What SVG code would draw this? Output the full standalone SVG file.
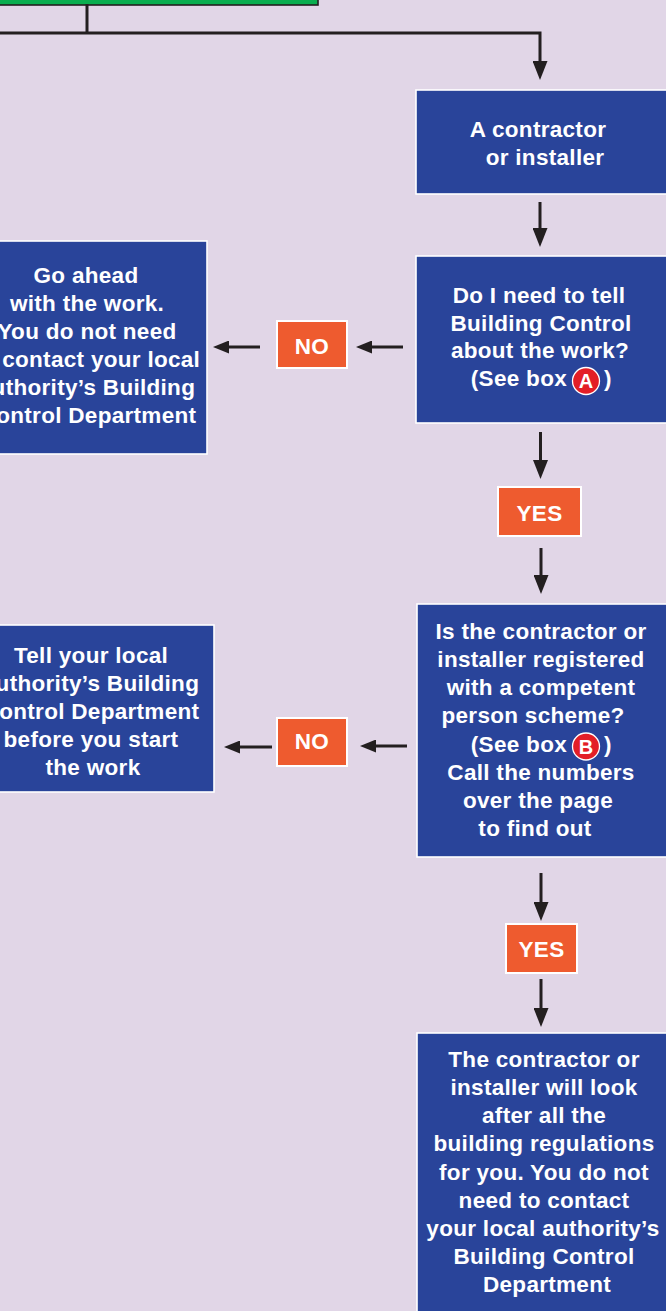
<svg xmlns="http://www.w3.org/2000/svg" width="666" height="1311" viewBox="0 0 666 1311">
<style>
.bg{fill:#e1d6e7}
.box{fill:#29449a;stroke:#ffffff;stroke-width:1.6}
.tag{fill:#ee5b2f;stroke:#ffffff;stroke-width:2}
.t{font-family:"Liberation Sans",Arial,Helvetica,sans-serif;font-weight:bold;font-size:22.5px;fill:#ffffff;text-anchor:middle;letter-spacing:0.3px}
.ts{font-family:"Liberation Sans",Arial,Helvetica,sans-serif;font-weight:bold;font-size:22.5px;fill:#ffffff;letter-spacing:0.3px}
.c{fill:#e31e26;stroke:#ffffff;stroke-width:1.3}
.cl{font-family:"Liberation Sans",Arial,Helvetica,sans-serif;font-weight:bold;font-size:20px;fill:#ffffff;text-anchor:middle}
.ln{fill:none;stroke:#231f20;stroke-width:3}
.lv{fill:none;stroke:#231f20;stroke-width:3;marker-end:url(#aV)}
.lh{fill:none;stroke:#231f20;stroke-width:3;marker-end:url(#aH)}
</style>
<defs>
<marker id="aV" markerUnits="userSpaceOnUse" markerWidth="19" markerHeight="15" refX="9" refY="7.5" orient="auto">
<path d="M0,0 L19,7.5 L0,15 Z" fill="#231f20"/>
</marker>
<marker id="aH" markerUnits="userSpaceOnUse" markerWidth="16" markerHeight="13" refX="6" refY="6.5" orient="auto">
<path d="M0,0 L16,6.5 L0,13 Z" fill="#231f20"/>
</marker>
</defs>
<rect class="bg" x="0" y="0" width="666" height="1311"/>

<g id="start">
<rect x="-5" y="-10" width="323" height="15" fill="#0aae4f" stroke="#231f20" stroke-width="1.6"/>
</g>

<g id="connectors">
<path class="ln" d="M87,4 V33"/>
<path class="lv" d="M0,33 H540 V70"/>
<path class="lv" d="M540,202 V237"/>
<path class="lh" d="M403,347 H366"/>
<path class="lh" d="M260,347 H223"/>
<path class="lv" d="M540.5,432 V469"/>
<path class="lv" d="M541,548 V584"/>
<path class="lh" d="M407,746 H370"/>
<path class="lh" d="M272,747 H234"/>
<path class="lv" d="M541,873 V911"/>
<path class="lv" d="M541,979 V1017"/>
</g>

<g id="contractor">
<rect class="box" x="416" y="90" width="260" height="104"/>
<text class="t" x="538" y="137">A contractor</text>
<text class="t" x="545" y="165">or installer</text>
</g>

<g id="q-tell">
<rect class="box" x="416" y="256" width="260" height="167"/>
<text class="t" x="539" y="303">Do I need to tell</text>
<text class="t" x="541" y="331">Building Control</text>
<text class="t" x="540" y="358">about the work?</text>
<text class="ts" x="567" y="386" text-anchor="end">(See box</text>
<circle class="c" cx="586" cy="381" r="13.5"/>
<text class="cl" x="586" y="388">A</text>
<text class="ts" x="604" y="386">)</text>
</g>

<g id="no1">
<rect class="tag" x="277" y="321" width="70" height="47"/>
<text class="t" x="312" y="354">NO</text>
</g>

<g id="go-ahead">
<rect class="box" x="-10" y="241" width="217" height="213"/>
<text class="t" x="86" y="283">Go ahead</text>
<text class="t" x="87" y="311">with the work.</text>
<text class="t" x="87" y="339">You do not need</text>
<text class="t" x="87" y="367">to contact your local</text>
<text class="t" x="87" y="395">authority’s Building</text>
<text class="t" x="88" y="423">Control Department</text>
</g>

<g id="yes1">
<rect class="tag" x="498" y="487" width="83" height="49"/>
<text class="t" x="539.5" y="521">YES</text>
</g>

<g id="q-registered">
<rect class="box" x="417" y="604" width="260" height="253"/>
<text class="t" x="541" y="639">Is the contractor or</text>
<text class="t" x="541" y="667">installer registered</text>
<text class="t" x="541" y="695">with a competent</text>
<text class="t" x="533" y="723">person scheme?</text>
<text class="ts" x="567" y="752" text-anchor="end">(See box</text>
<circle class="c" cx="586" cy="746.5" r="13.5"/>
<text class="cl" x="586" y="753.5">B</text>
<text class="ts" x="604" y="752">)</text>
<text class="t" x="541" y="780">Call the numbers</text>
<text class="t" x="538" y="808">over the page</text>
<text class="t" x="535" y="836">to find out</text>
</g>

<g id="no2">
<rect class="tag" x="277" y="718" width="70" height="48"/>
<text class="t" x="312" y="749">NO</text>
</g>

<g id="tell-la">
<rect class="box" x="-10" y="625" width="224" height="167"/>
<text class="t" x="91" y="663">Tell your local</text>
<text class="t" x="91" y="691">authority’s Building</text>
<text class="t" x="91" y="719">Control Department</text>
<text class="t" x="91" y="747">before you start</text>
<text class="t" x="93" y="775">the work</text>
</g>

<g id="yes2">
<rect class="tag" x="506" y="924" width="71" height="49"/>
<text class="t" x="541.5" y="957">YES</text>
</g>

<g id="contractor-handles">
<rect class="box" x="417" y="1033" width="260" height="290"/>
<text class="t" x="544" y="1067">The contractor or</text>
<text class="t" x="544" y="1095">installer will look</text>
<text class="t" x="544" y="1123">after all the</text>
<text class="t" x="544" y="1151">building regulations</text>
<text class="t" x="544" y="1180">for you. You do not</text>
<text class="t" x="544" y="1208">need to contact</text>
<text class="t" x="543" y="1236">your local authority’s</text>
<text class="t" x="544" y="1264">Building Control</text>
<text class="t" x="547" y="1292">Department</text>
</g>
</svg>
